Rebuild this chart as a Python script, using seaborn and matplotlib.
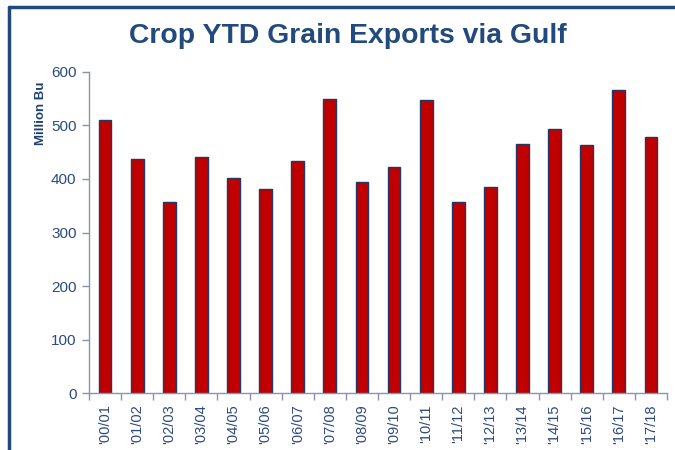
import numpy as np
import pandas as pd
import matplotlib
matplotlib.use("Agg")
import matplotlib.pyplot as plt
import seaborn as sns
from matplotlib.lines import Line2D

seasons = ["'00/01", "'01/02", "'02/03", "'03/04", "'04/05", "'05/06", "'06/07",
           "'07/08", "'08/09", "'09/10", "'10/11", "'11/12", "'12/13", "'13/14",
           "'14/15", "'15/16", "'16/17", "'17/18"]
exports = [509, 438, 357, 440, 401, 382, 434, 550, 394, 423, 548, 356, 385, 466,
           494, 464, 565, 479]
yticks = [0, 100, 200, 300, 400, 500, 600]

sns.set_theme(style="white")
plt.rcParams['font.family'] = ['Liberation Sans', 'DejaVu Sans']

navy = "#1f3f73"
text_blue = "#2b4a7e"
spine_c = "#8a93b0"

df = pd.DataFrame({"season": seasons, "exports": exports})

fig = plt.figure(figsize=(6.75, 4.5), dpi=100)
ax = fig.add_axes([89/675, 1-393.3/450, (667-89)/675, (393.3-71.7)/450])

sns.barplot(data=df, x="season", y="exports", ax=ax, color="#c00000",
            width=0.4, edgecolor="#1f3864", linewidth=1.0, saturation=1)

ax.set_xlim(-0.5, len(seasons)-0.5)
ax.set_ylim(0, 600)
ax.set_yticks(yticks)
ax.set_yticklabels([str(v) for v in yticks], color=text_blue, fontsize=11)
ax.set_xticks(np.arange(len(seasons)))
ax.set_xticklabels(seasons, rotation=90, color=text_blue, fontsize=10.5)
ax.set_xticks(np.arange(-0.5, len(seasons), 1), minor=True)
ax.tick_params(axis="x", which="major", length=0, pad=8)
ax.tick_params(axis="x", which="minor", length=5, color=spine_c, width=1, direction="out", bottom=True)
ax.tick_params(axis="y", which="major", length=5, color=spine_c, width=1, direction="out", left=True, pad=4)

for s in ["top", "right"]:
    ax.spines[s].set_visible(False)
for s in ["left", "bottom"]:
    ax.spines[s].set_color(spine_c)
    ax.spines[s].set_linewidth(1)

ax.set_xlabel("")
ax.set_ylabel("Million Bu", fontsize=9.5, fontweight="bold", color=navy)
ax.yaxis.set_label_coords(-0.073, 0.87)

fig.text(0.516, 1-36/450, "Crop YTD Grain Exports via Gulf", ha="center", va="center",
         fontsize=20.4, fontweight="bold", color="#234a7c")

# outer frame (top and left edges visible)
fig.add_artist(Line2D([9/675, 1.0], [1-7/450, 1-7/450], color="#23487a", lw=2.5, transform=fig.transFigure))
fig.add_artist(Line2D([9/675, 9/675], [0.0, 1-7/450], color="#23487a", lw=2.5, transform=fig.transFigure))

fig.savefig("out.png", dpi=100)
